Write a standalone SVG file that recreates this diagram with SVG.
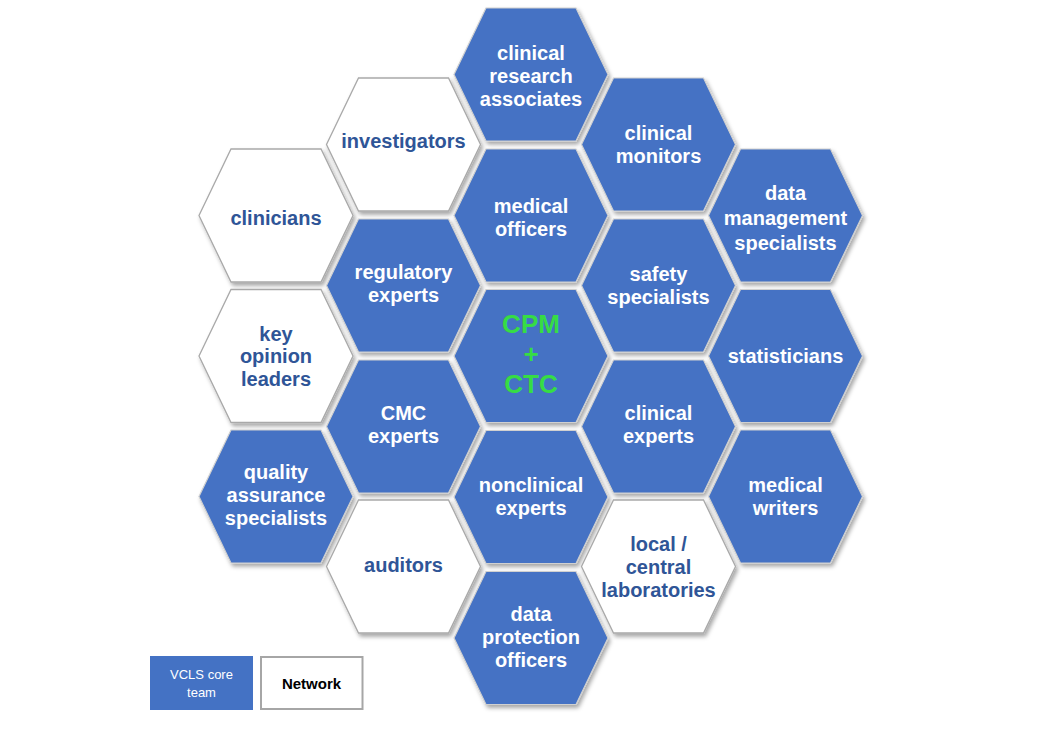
<svg xmlns="http://www.w3.org/2000/svg" xmlns:xlink="http://www.w3.org/1999/xlink" width="1064" height="754" viewBox="0 0 1064 754">
<style>
.hb{fill:#4472C4;stroke:#d0d0d0;stroke-width:1.2;filter:url(#sh)}
.hw{fill:#ffffff;stroke:#a9a9a9;stroke-width:1.3;filter:url(#sh)}
text{font-family:"Liberation Sans",Arial,sans-serif;font-weight:bold;font-size:20px;text-anchor:middle}
.tw{fill:#ffffff}
.tb{fill:#2F5597}
.tg{fill:#36DC45;font-size:26px}
.leg{font-weight:normal;font-size:13px;fill:#ffffff}
.legn{font-size:15px;fill:#000000}
</style>
<defs>
<filter id="sh" x="-20%" y="-20%" width="140%" height="140%">
<feDropShadow dx="2" dy="3" stdDeviation="2" flood-color="#000" flood-opacity="0.35"/>
</filter>
<polygon id="hex" points="-77,0 -45,-66.5 45,-66.5 77,0 45,66.5 -45,66.5"/>
</defs>
<rect width="1064" height="754" fill="#ffffff"/>
<g id="connectors"></g>

<g id="n-clinical-research"><use xlink:href="#hex" x="531" y="74.5" class="hb"/>
<text class="tw" x="531" y="60">clinical</text><text class="tw" x="531" y="83">research</text><text class="tw" x="531" y="106">associates</text></g>

<g id="n-investigators"><use xlink:href="#hex" x="403.5" y="144.5" class="hw"/>
<text class="tb" x="403.5" y="148">investigators</text></g>

<g id="n-clinical-monitors"><use xlink:href="#hex" x="658.5" y="144.5" class="hb"/>
<text class="tw" x="658.5" y="140">clinical</text><text class="tw" x="658.5" y="163">monitors</text></g>

<g id="n-clinicians"><use xlink:href="#hex" x="276" y="215.5" class="hw"/>
<text class="tb" x="276" y="225">clinicians</text></g>

<g id="n-medical-officers"><use xlink:href="#hex" x="531" y="215.5" class="hb"/>
<text class="tw" x="531" y="213">medical</text><text class="tw" x="531" y="236">officers</text></g>

<g id="n-data-management"><use xlink:href="#hex" x="785.5" y="215.5" class="hb"/>
<text class="tw" x="785.5" y="200">data</text><text class="tw" x="785.5" y="225">management</text><text class="tw" x="785.5" y="250">specialists</text></g>

<g id="n-regulatory"><use xlink:href="#hex" x="403.5" y="285.5" class="hb"/>
<text class="tw" x="403.5" y="279">regulatory</text><text class="tw" x="403.5" y="302">experts</text></g>

<g id="n-safety"><use xlink:href="#hex" x="658.5" y="285.5" class="hb"/>
<text class="tw" x="658.5" y="281">safety</text><text class="tw" x="658.5" y="304">specialists</text></g>

<g id="n-cpm-ctc"><use xlink:href="#hex" x="531" y="356" class="hb"/>
<text class="tg" x="531" y="333">CPM</text><text class="tg" x="531" y="363">+</text><text class="tg" x="531" y="393">CTC</text></g>

<g id="n-kol"><use xlink:href="#hex" x="276" y="356" class="hw"/>
<text class="tb" x="276" y="341">key</text><text class="tb" x="276" y="363">opinion</text><text class="tb" x="276" y="386">leaders</text></g>

<g id="n-statisticians"><use xlink:href="#hex" x="785.5" y="356" class="hb"/>
<text class="tw" x="785.5" y="363">statisticians</text></g>

<g id="n-cmc"><use xlink:href="#hex" x="403.5" y="426.5" class="hb"/>
<text class="tw" x="403.5" y="420">CMC</text><text class="tw" x="403.5" y="443">experts</text></g>

<g id="n-clinical-experts"><use xlink:href="#hex" x="658.5" y="426.5" class="hb"/>
<text class="tw" x="658.5" y="420">clinical</text><text class="tw" x="658.5" y="443">experts</text></g>

<g id="n-qa"><use xlink:href="#hex" x="276" y="496.5" class="hb"/>
<text class="tw" x="276" y="479">quality</text><text class="tw" x="276" y="502">assurance</text><text class="tw" x="276" y="525">specialists</text></g>

<g id="n-nonclinical"><use xlink:href="#hex" x="531" y="497" class="hb"/>
<text class="tw" x="531" y="492">nonclinical</text><text class="tw" x="531" y="515">experts</text></g>

<g id="n-medical-writers"><use xlink:href="#hex" x="785.5" y="496.5" class="hb"/>
<text class="tw" x="785.5" y="492">medical</text><text class="tw" x="785.5" y="515">writers</text></g>

<g id="n-auditors"><use xlink:href="#hex" x="403.5" y="566.5" class="hw"/>
<text class="tb" x="403.5" y="572">auditors</text></g>

<g id="n-laboratories"><use xlink:href="#hex" x="658.5" y="566.5" class="hw"/>
<text class="tb" x="658.5" y="551">local /</text><text class="tb" x="658.5" y="574">central</text><text class="tb" x="658.5" y="597">laboratories</text></g>

<g id="n-data-protection"><use xlink:href="#hex" x="531" y="638" class="hb"/>
<text class="tw" x="531" y="621">data</text><text class="tw" x="531" y="644">protection</text><text class="tw" x="531" y="667">officers</text></g>

<g id="legend-core"><rect x="150" y="656" width="103" height="54" fill="#4472C4"/>
<text class="leg" x="201.5" y="679">VCLS core</text><text class="leg" x="201.5" y="697">team</text></g>
<g id="legend-network"><rect x="261" y="657" width="101.5" height="52" fill="#ffffff" stroke="#a6a6a6" stroke-width="2"/>
<text class="legn" x="311.5" y="689">Network</text></g>
</svg>
